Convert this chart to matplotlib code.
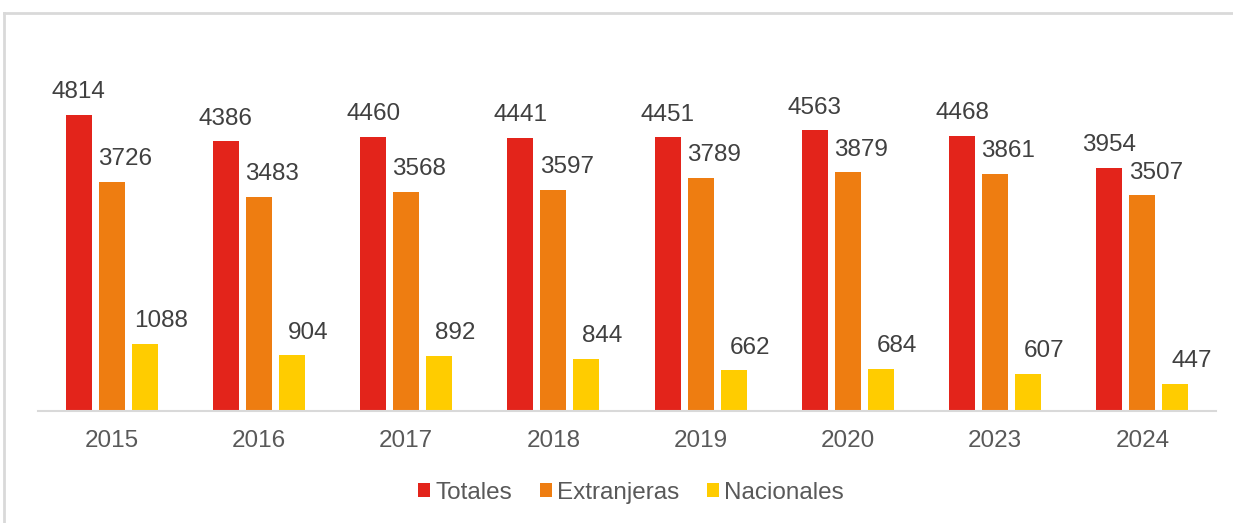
import matplotlib
matplotlib.use("Agg")
import matplotlib.pyplot as plt
from matplotlib.lines import Line2D
from matplotlib.patches import Patch
import numpy as np

plt.rcParams['font.family'] = ['Liberation Sans', 'DejaVu Sans']

years = ["2015", "2016", "2017", "2018", "2019", "2020", "2023", "2024"]
totales = [4814, 4386, 4460, 4441, 4451, 4563, 4468, 3954]
extranjeras = [3726, 3483, 3568, 3597, 3789, 3879, 3861, 3507]
nacionales = [1088, 904, 892, 844, 662, 684, 607, 447]
series_names = ["Totales", "Extranjeras", "Nacionales"]
colors = ["#E3241B", "#EE7D11", "#FFCC00"]

W, H = 1233, 523
fig = plt.figure(figsize=(W / 100, H / 100), dpi=100)
# axes: x from 38 to 1216 px, baseline y=411, top at y=42
ax = fig.add_axes([38 / W, (H - 411) / H, (1216 - 38) / W, (411 - 42) / H])

n = len(years)
x = np.arange(n)
bw = 26 / 147.25
step = 33 / 147.25
label_dx = [0.0, 0.09, 0.11]
data = [totales, extranjeras, nacionales]
for i, (vals, name, c) in enumerate(zip(data, series_names, colors)):
    pos = x + (i - 1) * step
    ax.bar(pos, vals, width=bw, color=c, label=name)
    for p, v in zip(pos, vals):
        ax.text(p + label_dx[i], v + 370, str(v), ha='center', va='center',
                fontsize=17.5, color='#404040')

ax.set_xlim(-0.5, n - 0.5)
ax.set_ylim(0, 6000)
ax.set_yticks([])
ax.set_xticks(x)
ax.set_xticklabels(years, fontsize=17.5, color='#595959')
ax.tick_params(axis='x', length=0, pad=14)
for s in ['top', 'right', 'left']:
    ax.spines[s].set_visible(False)
ax.spines['bottom'].set_color('#D9D9D9')
ax.spines['bottom'].set_linewidth(1.5)

handles = [Patch(facecolor=c, edgecolor='none') for c in colors]
leg = fig.legend(handles, series_names, loc='center', bbox_to_anchor=(631 / W, (H - 493) / H),
                 ncol=3, frameon=False, fontsize=17.5, handlelength=0.5, handleheight=0.5,
                 handletextpad=0.2, columnspacing=1.15)
for t in leg.get_texts():
    t.set_color('#595959')

# chart border (partially visible)
fig.add_artist(Line2D([4 / W, 4 / W], [0, (H - 13) / H], color='#D9D9D9', lw=2, transform=fig.transFigure))
fig.add_artist(Line2D([4 / W, 1], [(H - 13) / H, (H - 13) / H], color='#D9D9D9', lw=2, transform=fig.transFigure))

fig.savefig("out.png", dpi=100)
